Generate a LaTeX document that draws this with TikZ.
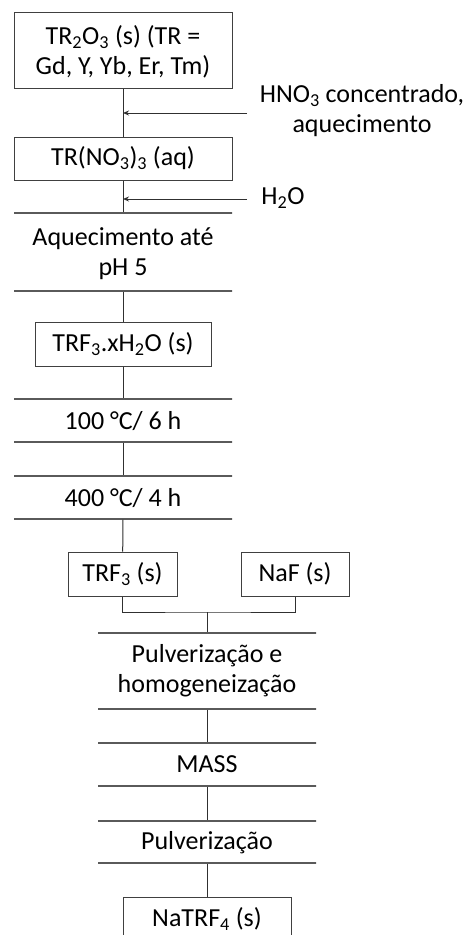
\documentclass[tikz,border=0pt]{standalone}
\usepackage{fontspec}
\setmainfont{Carlito}
\usetikzlibrary{arrows.meta}
\newcommand\chsub[1]{\textsubscript{#1}}
\definecolor{boxline}{HTML}{404040}
\definecolor{barline}{HTML}{5A5A5A}
\definecolor{linkline}{HTML}{303030}
\begin{document}
\begin{tikzpicture}[x=1pt,y=-1pt,
  font=\fontsize{26}{30}\selectfont,
  stepbox/.style={draw=boxline, line width=1pt, inner sep=0pt, align=center},
  bar/.style={draw=barline, line width=1.2pt, inner sep=0pt, minimum height=0pt, minimum width=#1},
  bar/.default=218pt,
  label/.style={inner sep=0pt, align=center},
  link/.style={draw=linkline, line width=1pt},
  feed/.style={draw=linkline, line width=1pt, -{Stealth[length=6pt,width=5pt]}}]
\useasboundingbox (0,0) rectangle (467,935);

% main column
\node[stepbox, minimum width=218pt, minimum height=76pt] (ox) at (123,50) {};
\node[label] (oxtext) at (123,52) {TR\chsub{2}O\chsub{3} (s) (TR =\\Gd, Y, Yb, Er, Tm)};
\node[stepbox, minimum width=218pt, minimum height=43pt] (nit) at (123,158.5) {TR(NO\chsub{3})\chsub{3} (aq)};
\node[bar] (b1) at (123,213) {};
\node[label] (heat) at (123,254) {Aquecimento até\\pH 5};
\node[bar] (b2) at (123,291) {};
\node[stepbox, minimum width=176pt, minimum height=44pt] (hyd) at (123,344) {TRF\chsub{3}.xH\chsub{2}O (s)};
\node[bar] (b3) at (123,399) {};
\node[label] (t100) at (123,421) {100 °C/ 6 h};
\node[bar] (b4) at (123,442) {};
\node[bar] (b5) at (123,476) {};
\node[label] (t400) at (123,498) {400 °C/ 4 h};
\node[bar] (b6) at (123,519) {};
\node[stepbox, minimum width=109pt, minimum height=44pt] (trf) at (122.5,574) {TRF\chsub{3} (s)};
\node[stepbox, minimum width=108pt, minimum height=44pt] (naf) at (295,574) {NaF (s)};
\coordinate (join) at (207,612);
\node[bar] (b7) at (207,633) {};
\node[label] (pul) at (207,671) {Pulverização e\\homogeneização};
\node[bar] (b8) at (207,709) {};
\node[bar] (b9) at (207,743) {};
\node[label] (mass) at (207,764) {MASS};
\node[bar] (b10) at (207,786) {};
\node[bar] (b11) at (207,821) {};
\node[label] (pul2) at (207,843) {Pulverização};
\node[bar] (b12) at (207,863) {};
\node[stepbox, minimum width=168pt, minimum height=44pt] (prod) at (207,919) {NaTRF\chsub{4} (s)};

% side reagents
\node[label] (acid) at (362,111) {HNO\chsub{3} concentrado,\\aquecimento};
\node[label] (water) at (283,198) {H\chsub{2}O};
\coordinate (acidin) at (247,113);
\coordinate (waterin) at (247,199);

% connectors
\draw[link] (ox) -- (nit);
\draw[link] (nit) -- (b1);
\draw[link] (b2) -- (hyd);
\draw[link] (hyd) -- (b3);
\draw[link] (b4) -- (b5);
\draw[link] (b6) -- (trf);
\draw[link] (trf.south) |- (join) -| (naf.south);
\draw[link] (join) -- (b7);
\draw[link] (b8) -- (b9);
\draw[link] (b10) -- (b11);
\draw[link] (b12) -- (prod);
\draw[feed] (acidin) -- (acidin -| ox.south);
\draw[feed] (waterin) -- (waterin -| nit.south);
\end{tikzpicture}
\end{document}
